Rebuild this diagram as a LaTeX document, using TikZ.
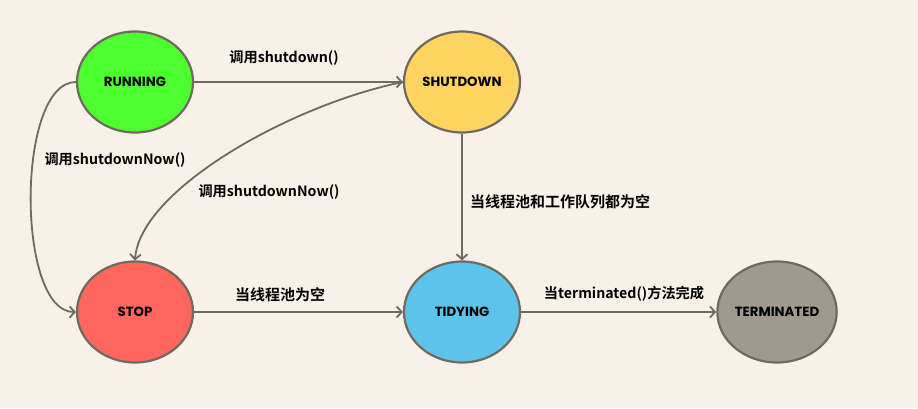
\documentclass[tikz,border=0pt]{standalone}
\usepackage{fontspec}
\usetikzlibrary{arrows.meta,shapes.geometric}
\newfontfamily\nodefont{Poppins}[BoldFont={Poppins Bold}]
\newfontfamily\cjk{Noto Sans CJK SC}[BoldFont={Noto Sans CJK SC Bold}]
\definecolor{bgc}{HTML}{F8F1E8}
\definecolor{linec}{HTML}{6E6A60}
\definecolor{cRun}{HTML}{4EFF30}
\definecolor{cShut}{HTML}{FFD460}
\definecolor{cStop}{HTML}{FF6660}
\definecolor{cTidy}{HTML}{5CC3EB}
\definecolor{cTerm}{HTML}{A09A8E}
\begin{document}
\begin{tikzpicture}[x=1pt,y=-1pt,
  state/.style={ellipse,draw=linec,line width=2.2pt,minimum width=116pt,minimum height=101pt,inner sep=0pt,font=\nodefont\bfseries\fontsize{13.3}{15}\selectfont},
  edge/.style={draw=linec,line width=1.8pt,-{Straight Barb[length=5pt,width=11pt]}},
  lbl/.style={font=\cjk\bfseries\fontsize{15}{17}\selectfont,inner sep=0pt},
  mlbl/.style={font=\cjk\bfseries\fontsize{14.2}{17}\selectfont,inner sep=0pt}]
\fill[bgc] (0,0) rectangle (918,408);
\useasboundingbox (0,0) rectangle (918,408);
\node[state,fill=cRun] (run) at (135,82) {RUNNING};
\node[state,fill=cShut] (shut) at (462,82) {SHUTDOWN};
\node[state,fill=cStop] (stop) at (135,312) {STOP};
\node[state,fill=cTidy] (tidy) at (462,312) {TIDYING};
\node[state,fill=cTerm] (term) at (777,312) {TERMINATED};
\draw[edge] (run.east) -- (shut.west);
\draw[edge] (run.west) .. controls +(-60,0) and +(-60,0) .. (stop.west);
\draw[edge] (shut.west) .. controls (290,105) and (140,190) .. (stop.north);
\draw[edge] (shut.south) -- (tidy.north);
\draw[edge] (stop.east) -- (tidy.west);
\draw[edge] (tidy.east) -- (term.west);
\node[mlbl] (l1) at (284,58) {调用shutdown()};
\node[mlbl] (l2) at (115,160) {调用shutdownNow()};
\node[mlbl] (l3) at (269,192) {调用shutdownNow()};
\node[lbl,anchor=west] (l4) at (470,202) {当线程池和工作队列都为空};
\node[lbl] (l5) at (280,295) {当线程池为空};
\node[mlbl] (l6) at (624,294) {当terminated()方法完成};
\end{tikzpicture}
\end{document}
